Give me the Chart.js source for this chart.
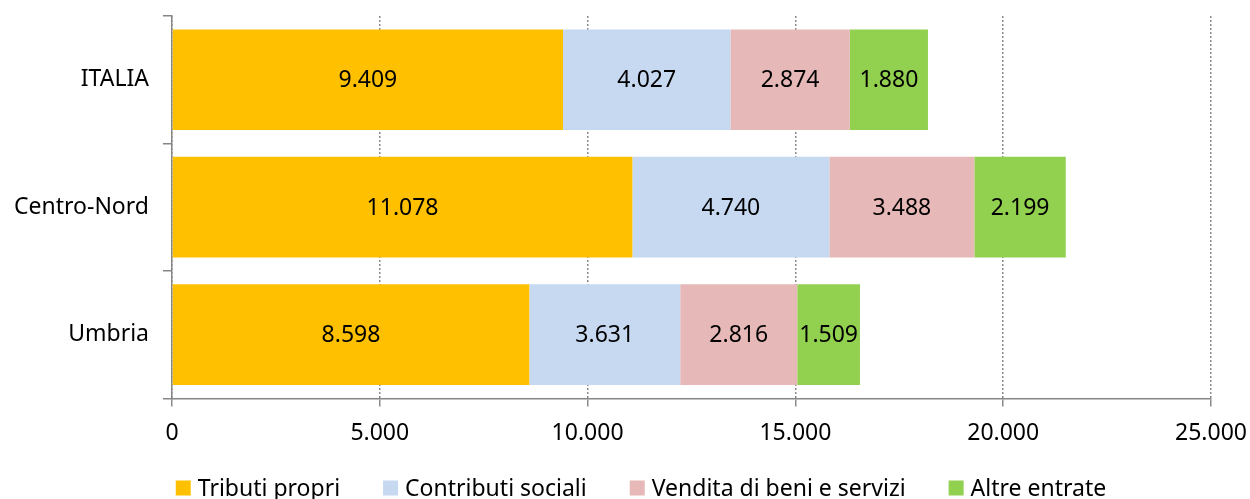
<!DOCTYPE html>
<html>
<head>
<meta charset="utf-8">
<script src="https://cdn.jsdelivr.net/npm/chart.js@4"></script>
<style>
  html, body { margin: 0; padding: 0; background: #fff; }
  #wrap { width: 1250px; height: 499px; }
</style>
</head>
<body>
<div id="wrap"><canvas id="entrateChart"></canvas></div>
<script>
const areas = ['ITALIA', 'Centro-Nord', 'Umbria'];
const tributiPropri = [9409, 11078, 8598];
const contributiSociali = [4027, 4740, 3631];
const venditaBeni = [2874, 3488, 2816];
const altreEntrate = [1880, 2199, 1509];
const xTicks = [0, 5000, 10000, 15000, 20000, 25000];

const fmt = v => String(v).replace(/\B(?=(\d{3})+(?!\d))/g, '.');
const FONT = 'Noto Sans';
const FONT_SIZE = 23;

// centred value inside each segment
const segmentLabels = {
    id: 'segmentLabels',
    afterDatasetsDraw(chart) {
        const ctx = chart.ctx;
        ctx.save();
        ctx.font = FONT_SIZE + 'px "' + FONT + '"';
        ctx.fillStyle = '#000';
        ctx.textAlign = 'center';
        ctx.textBaseline = 'middle';
        chart.data.datasets.forEach((ds, i) => {
            chart.getDatasetMeta(i).data.forEach((bar, j) => {
                ctx.fillText(fmt(ds.data[j]), (bar.x + bar.base) / 2, bar.y + 1);
            });
        });
        ctx.restore();
    }
};

// legend drawn by hand so the spacing can match (box 15, gap 7, items 43 apart)
const bottomLegend = {
    id: 'bottomLegend',
    afterDraw(chart) {
        const ctx = chart.ctx;
        const box = 15, gap = 7, spacing = 43;
        ctx.save();
        ctx.font = FONT_SIZE + 'px "' + FONT + '"';
        const items = chart.data.datasets.map(ds => ({
            text: ds.label, color: ds.backgroundColor, w: ctx.measureText(ds.label).width
        }));
        const total = items.reduce((s, it) => s + box + gap + it.w, 0) + spacing * (items.length - 1);
        let x = chart.width / 2 + 16 - total / 2;
        const y = 488;
        ctx.textBaseline = 'middle';
        items.forEach(it => {
            ctx.fillStyle = it.color;
            ctx.fillRect(x, y - 7.5, box, box);
            ctx.fillStyle = '#000';
            ctx.fillText(it.text, x + box + gap, y + 1);
            x += box + gap + it.w + spacing;
        });
        ctx.restore();
    }
};

const ctx = document.getElementById('entrateChart').getContext('2d');
new Chart(ctx, {
    type: 'bar',
    data: {
        labels: areas,
        datasets: [
            { label: 'Tributi propri', data: tributiPropri, backgroundColor: '#FFC000' },
            { label: 'Contributi sociali', data: contributiSociali, backgroundColor: '#C6D9F1' },
            { label: 'Vendita di beni e servizi', data: venditaBeni, backgroundColor: '#E6B9B8' },
            { label: 'Altre entrate', data: altreEntrate, backgroundColor: '#92D050' }
        ]
    },
    options: {
        indexAxis: 'y',
        responsive: true,
        maintainAspectRatio: false,
        animation: false,
        datasets: {
            bar: { categoryPercentage: 1, barPercentage: 0.79, borderWidth: 0 }
        },
        layout: { padding: { top: 16, right: 0, left: 0, bottom: 39 } },
        scales: {
            x: {
                stacked: true,
                min: 0,
                max: 25000,
                afterBuildTicks: axis => { axis.ticks = xTicks.map(v => ({ value: v })); },
                afterFit: axis => { axis.paddingRight = 39; },
                ticks: {
                    font: { family: FONT, size: FONT_SIZE },
                    color: '#000',
                    padding: 13,
                    maxRotation: 0,
                    callback: v => fmt(v)
                },
                grid: { color: '#8a8a8a', lineWidth: 1.5, tickLength: 8 },
                border: { display: true, color: '#868686', width: 1.5, dash: [2, 2] }
            },
            y: {
                stacked: true,
                afterFit: axis => { axis.paddingTop = 0; axis.paddingBottom = 0; },
                ticks: {
                    font: { family: FONT, size: FONT_SIZE },
                    color: '#000',
                    padding: 14
                },
                grid: { drawOnChartArea: false, color: '#868686', lineWidth: 1.5, tickLength: 9 },
                border: { display: true, color: '#868686', width: 1.5 }
            }
        },
        plugins: {
            legend: { display: false },
            tooltip: { enabled: false }
        }
    },
    plugins: [segmentLabels, bottomLegend]
});
</script>
</body>
</html>
